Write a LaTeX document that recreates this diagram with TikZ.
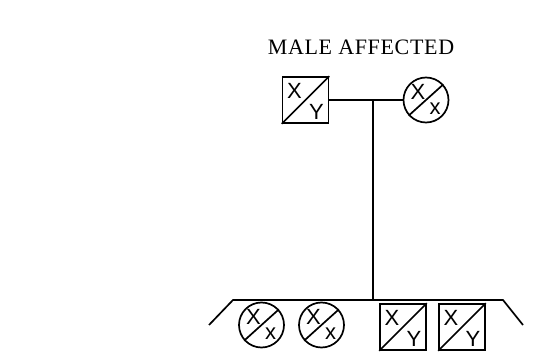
\documentclass[tikz,border=0pt]{standalone}
\usepackage{fontspec}
\setmainfont{Liberation Serif}
\newfontfamily\handfont{Liberation Sans}
\begin{document}
\begin{tikzpicture}[x=1pt,y=-1pt,
  line width=1.7pt,
  male/.style={draw, rectangle, minimum size=46pt, inner sep=0pt},
  female/.style={draw, circle, minimum size=45pt, inner sep=0pt},
  lbl/.style={font=\handfont\fontsize{22}{22}\selectfont, inner sep=0pt}]
\useasboundingbox (0,0) rectangle (552,358);
\node[font=\fontsize{22}{22}\selectfont\addfontfeature{LetterSpace=3}] (title) at (361,47) {MALE AFFECTED};
% parents
\node[male] (father) at (305.5,100) {};
\node[female] (mother) at (426,100) {};
% children
\node[female] (c1) at (261.5,325) {};
\node[female] (c2) at (321.5,325) {};
\node[male] (c3) at (403,327) {};
\node[male] (c4) at (462,327) {};
% diagonals and labels
\foreach \n/\a/\b in {father/X/Y, c3/X/Y, c4/X/Y}{
  \draw (\n.south west) -- (\n.north east);
  \node[lbl] at ([xshift=-11pt,yshift=9pt]\n.center) {\a};
  \node[lbl] at ([xshift=11pt,yshift=-12pt]\n.center) {\b};
}
\foreach \n in {mother, c1, c2}{
  \draw (\n.222) -- (\n.42);
  \node[lbl] at ([xshift=-8pt,yshift=8pt]\n.center) {X};
  \node[lbl] at ([xshift=9pt,yshift=-9pt]\n.center) {x};
}
% connectors
\coordinate (mid) at (373,100);
\coordinate (sib) at (373,300);
\coordinate (sl) at (233,300);
\coordinate (sr) at (503,300);
\coordinate (sle) at (209,325);
\coordinate (sre) at (523,325);
\draw (father.east) -- (mother.west);
\draw (mid) -- (sib);
\draw (sle) -- (sl) -- (sr) -- (sre);
\end{tikzpicture}
\end{document}
